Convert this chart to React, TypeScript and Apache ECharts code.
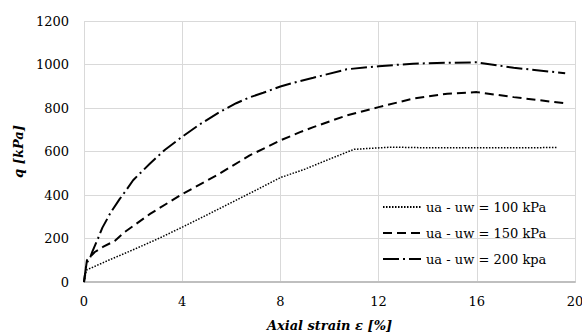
import React, { useEffect, useRef } from "react";
import * as echarts from "echarts";

const xTicks = [0, 4, 8, 12, 16, 20];
const yTicks = [0, 200, 400, 600, 800, 1000, 1200];

const seriesNames = ["ua - uw = 100 kPa", "ua - uw = 150 kPa", "ua - uw = 200 kpa"];

const strain100 = [0, 0.1, 1, 2, 3, 4, 5, 6, 7, 8, 9, 10, 11, 12.5, 14, 16, 19.3];
const q100 = [0, 55, 100, 148, 198, 252, 308, 365, 422, 480, 519, 565, 610, 620, 617, 617, 618];

const strain150 = [0, 0.12, 0.44, 0.77, 1.25, 1.66, 2.1, 2.69, 4, 5.4, 6.75, 8, 8.8, 9.34, 10.7, 12, 13.4, 14.8, 16, 17.5, 19.7];
const q150 = [0, 100, 138, 161, 189, 230, 265, 313, 404, 490, 582, 651, 689, 712, 766, 804, 843, 866, 873, 850, 820];

const strain200 = [0, 0.1, 0.26, 0.34, 0.57, 0.75, 1.1, 1.45, 1.72, 2, 2.69, 3.3, 4, 4.72, 5.47, 6.2, 6.7, 7.3, 8, 8.8, 9.34, 10.7, 12, 13.4, 14.8, 16, 17.5, 19.6];
const q200 = [0, 85, 115, 140, 200, 250, 322, 381, 422, 468, 545, 608, 668, 725, 778, 822, 847, 870, 899, 924, 939, 978, 992, 1004, 1008, 1010, 985, 960];

const FONT = "DejaVu Serif";

function pairs(xs: number[], ys: number[]) {
  return xs.map((x, i) => [x, ys[i]]);
}

export default function App() {
  const ref = useRef<HTMLDivElement>(null);
  useEffect(() => {
    document.body.style.margin = "0";
    const chart = echarts.init(ref.current!, undefined, { renderer: "svg" });
    const lineTypes: any[] = [
      { type: [1.5, 1.5], width: 1.5 },
      { type: [9, 5], width: 2 },
      { type: [16, 4, 2, 4], width: 2 },
    ];
    const datas = [pairs(strain100, q100), pairs(strain150, q150), pairs(strain200, q200)];
    chart.setOption({
      animation: false,
      backgroundColor: "#ffffff",
      grid: { left: 84, right: 7, top: 21, bottom: 54, containLabel: false, outerBoundsMode: "none" },
      legend: {
        orient: "vertical",
        left: 377,
        top: 194,
        itemWidth: 38,
        itemHeight: 14,
        itemGap: 10,
        data: seriesNames,
        itemStyle: { color: "rgba(0,0,0,0)", borderColor: "rgba(0,0,0,0)", borderWidth: 0, opacity: 0 },
        textStyle: { fontFamily: FONT, fontSize: 13, color: "#000", lineHeight: 16 },
      },
      xAxis: {
        type: "value",
        min: xTicks[0],
        max: xTicks[xTicks.length - 1],
        interval: 4,
        name: "Axial strain \u03b5 [%]",
        nameLocation: "middle",
        nameGap: 37,
        nameTextStyle: { fontFamily: FONT, fontSize: 13, fontWeight: "bold", fontStyle: "italic", color: "#000" },
        axisLine: { show: true, lineStyle: { color: "#bfbfbf", width: 2 } },
        axisTick: { show: false },
        axisLabel: { fontFamily: FONT, fontSize: 13, color: "#000", margin: 13, formatter: (v: number) => String(v) },
        splitLine: { show: true, lineStyle: { color: "#d9d9d9", width: 1 } },
      },
      yAxis: {
        type: "value",
        min: yTicks[0],
        max: yTicks[yTicks.length - 1],
        interval: 200,
        name: "q [kPa]",
        nameLocation: "middle",
        nameRotate: 90,
        nameGap: 46,
        nameTextStyle: { fontFamily: FONT, fontSize: 13, fontWeight: "bold", fontStyle: "italic", color: "#000" },
        axisLine: { show: false },
        axisTick: { show: false },
        axisLabel: { fontFamily: FONT, fontSize: 13, color: "#000", margin: 15, formatter: (v: number) => String(v) },
        splitLine: { show: true, lineStyle: { color: "#d9d9d9", width: 1 } },
      },
      series: seriesNames.map((name, i) => ({
        name,
        type: "line",
        data: datas[i],
        symbol: "none",
        showSymbol: false,
        smooth: false,
        color: "#000",
        lineStyle: { color: "#000", ...lineTypes[i] },
        z: 3,
      })),
    });
    return () => chart.dispose();
  }, []);
  return <div ref={ref} style={{ position: "fixed", left: 0, top: 0, width: 582, height: 336 }} />;
}
